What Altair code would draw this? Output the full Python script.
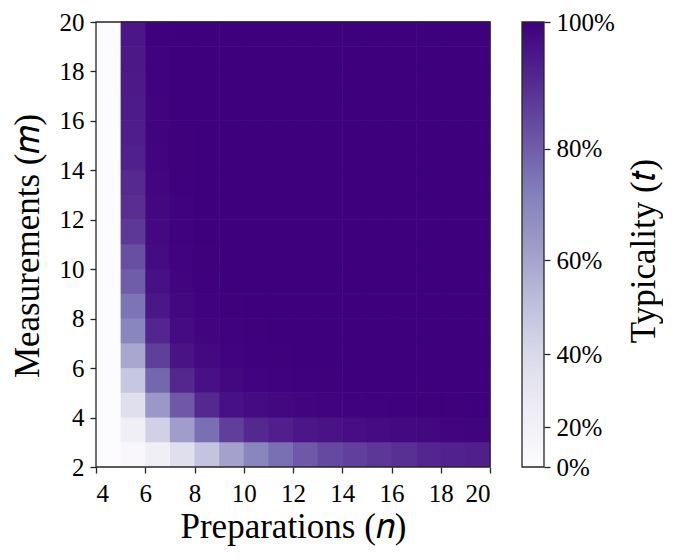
import altair as alt
import pandas as pd

# ---- data ----
n_values = [4, 5, 6, 7, 8, 9, 10, 11, 12, 13, 14, 15, 16, 17, 18, 19]   # cell left edges (preparations)
m_values = [2, 3, 4, 5, 6, 7, 8, 9, 10, 11, 12, 13, 14, 15, 16, 17, 18, 19]  # cell bottom edges (measurements)

row_m2  = [0.00, 0.10, 0.22, 0.36, 0.49, 0.61, 0.70, 0.76, 0.81, 0.845, 0.862, 0.881, 0.898, 0.917, 0.926, 0.932]
row_m3  = [0.00, 0.22, 0.44, 0.62, 0.76, 0.865, 0.913, 0.932, 0.950, 0.961, 0.970, 0.977, 0.981, 0.985, 0.989, 0.991]
row_m4  = [0.00, 0.36, 0.64, 0.81, 0.913, 0.966, 0.977, 0.985, 0.990, 0.993, 0.995, 0.996, 0.997, 0.998, 0.998, 0.999]
row_m5  = [0.00, 0.48, 0.78, 0.915, 0.966, 0.985, 0.993, 0.996, 0.997, 0.998, 0.999, 0.999, 1.0, 1.0, 1.0, 1.0]
row_m6  = [0.00, 0.59, 0.865, 0.959, 0.981, 0.993, 0.997, 0.998, 0.999, 1.0, 1.0, 1.0, 1.0, 1.0, 1.0, 1.0]
row_m7  = [0.00, 0.70, 0.919, 0.977, 0.990, 0.996, 0.998, 0.999, 1.0, 1.0, 1.0, 1.0, 1.0, 1.0, 1.0, 1.0]
row_m8  = [0.00, 0.75, 0.953, 0.985, 0.995, 0.998, 0.999, 1.0, 1.0, 1.0, 1.0, 1.0, 1.0, 1.0, 1.0, 1.0]
row_m9  = [0.00, 0.80, 0.966, 0.990, 0.997, 0.999, 1.0, 1.0, 1.0, 1.0, 1.0, 1.0, 1.0, 1.0, 1.0, 1.0]
row_m10 = [0.00, 0.83, 0.977, 0.993, 0.998, 0.999, 1.0, 1.0, 1.0, 1.0, 1.0, 1.0, 1.0, 1.0, 1.0, 1.0]
row_m11 = [0.00, 0.88, 0.981, 0.995, 0.999, 1.0, 1.0, 1.0, 1.0, 1.0, 1.0, 1.0, 1.0, 1.0, 1.0, 1.0]
row_m12 = [0.00, 0.90, 0.985, 0.996, 0.999, 1.0, 1.0, 1.0, 1.0, 1.0, 1.0, 1.0, 1.0, 1.0, 1.0, 1.0]
row_m13 = [0.00, 0.91, 0.988, 0.997, 1.0, 1.0, 1.0, 1.0, 1.0, 1.0, 1.0, 1.0, 1.0, 1.0, 1.0, 1.0]
row_m14 = [0.00, 0.93, 0.990, 0.998, 1.0, 1.0, 1.0, 1.0, 1.0, 1.0, 1.0, 1.0, 1.0, 1.0, 1.0, 1.0]
row_m15 = [0.00, 0.935, 0.992, 0.998, 1.0, 1.0, 1.0, 1.0, 1.0, 1.0, 1.0, 1.0, 1.0, 1.0, 1.0, 1.0]
row_m16 = [0.00, 0.94, 0.994, 0.999, 1.0, 1.0, 1.0, 1.0, 1.0, 1.0, 1.0, 1.0, 1.0, 1.0, 1.0, 1.0]
row_m17 = [0.00, 0.945, 0.995, 0.999, 1.0, 1.0, 1.0, 1.0, 1.0, 1.0, 1.0, 1.0, 1.0, 1.0, 1.0, 1.0]
row_m18 = [0.00, 0.948, 0.996, 0.999, 1.0, 1.0, 1.0, 1.0, 1.0, 1.0, 1.0, 1.0, 1.0, 1.0, 1.0, 1.0]
row_m19 = [0.00, 0.95, 0.997, 1.0, 1.0, 1.0, 1.0, 1.0, 1.0, 1.0, 1.0, 1.0, 1.0, 1.0, 1.0, 1.0]

rows = [row_m2, row_m3, row_m4, row_m5, row_m6, row_m7, row_m8, row_m9, row_m10,
        row_m11, row_m12, row_m13, row_m14, row_m15, row_m16, row_m17, row_m18, row_m19]

x_ticks = [4, 6, 8, 10, 12, 14, 16, 18, 20]
y_ticks = [2, 4, 6, 8, 10, 12, 14, 16, 18, 20]
cbar_ticks = [0.0, 0.2, 0.4, 0.6, 0.8, 1.0]

# ---- build table ----
records = []
for m, row in zip(m_values, rows):
    for n, t in zip(n_values, row):
        records.append({"n": n, "n_end": n + 1, "m": m, "m_end": m + 1, "t": t})
df = pd.DataFrame(records)

frame_df = pd.DataFrame({"n": [n_values[0]], "n_end": [n_values[-1] + 1],
                         "m": [m_values[0]], "m_end": [m_values[-1] + 1]})
cbar_df = pd.DataFrame({"lo": [0.0], "hi": [1.0]})

# ---- styling ----
FONT = "Liberation Serif"
INK = "#262626"
purples = ["#fcfbfd", "#efedf5", "#dadaeb", "#bcbddc", "#9e9ac8",
           "#807dba", "#6a51a3", "#54278f", "#3f007d"]
gamma = 1.5
color_domain = [(k / 8) ** (1 / gamma) for k in range(9)]
color_scale = alt.Scale(type="pow", exponent=gamma, domain=color_domain,
                        range=purples, interpolate="rgb", clamp=True)

W, H = 394, 445
CBW = 22
LABEL_SIZE = 25
TITLE_SIZE = 35

x_enc = alt.X("n:Q", scale=alt.Scale(domain=[4, 20], nice=False, zero=False),
              axis=alt.Axis(values=x_ticks, format="d", title="Preparations (𝑛)",
                            labelPadding=8, titleY=70, titleBaseline="alphabetic"))
y_enc = alt.Y("m:Q", scale=alt.Scale(domain=[2, 20], nice=False, zero=False),
              axis=alt.Axis(values=y_ticks, format="d", title="Measurements (𝑚)",
                            labelPadding=6, titleX=-58, titleY=H / 2 + 1, titleAngle=270,
                            titleBaseline="alphabetic", titleAlign="center"))

heat = alt.Chart(df).mark_rect(x2Offset=0.6, y2Offset=-0.6).encode(
    x=x_enc, x2="n_end:Q", y=y_enc, y2="m_end:Q",
    color=alt.Color("t:Q", scale=color_scale, legend=None),
)

frame = alt.Chart(frame_df).mark_rect(filled=False, stroke=INK, strokeWidth=1.3).encode(
    x=x_enc, x2="n_end:Q", y=y_enc, y2="m_end:Q",
)

main = alt.layer(heat, frame).properties(width=W, height=H)

gradient = alt.Gradient(
    gradient="linear",
    stops=[alt.GradientStop(offset=k / 8, color=c) for k, c in enumerate(purples)],
    x1=0, x2=0, y1=1, y2=0,
)

cbar = alt.Chart(cbar_df).mark_rect(fill=gradient, stroke=INK, strokeWidth=1.3).encode(
    x=alt.value(0), x2=alt.value(CBW),
    y=alt.Y("lo:Q", scale=alt.Scale(type="pow", exponent=gamma, domain=[0, 1], nice=False, zero=False),
            axis=alt.Axis(orient="right", values=cbar_ticks, format=".0%", title="Typicality (𝑡)",
                          labelPadding=6, titleX=110, titleY=H / 2 + 6, titleAngle=270,
                          titleBaseline="alphabetic", titleAlign="center")),
    y2="hi:Q",
).properties(width=CBW, height=H)

chart = alt.hconcat(main, cbar, spacing=30).properties(
    padding={"left": 2, "top": 2, "right": 2, "bottom": 2}
).configure_view(stroke=None).configure_axis(
    labelFont=FONT, labelFontSize=LABEL_SIZE, labelColor="black",
    titleFont=FONT, titleFontSize=TITLE_SIZE, titleFontWeight="normal", titleColor="black",
    tickColor=INK, tickWidth=1.3, tickSize=6, domain=False, grid=False,
)

chart.save("out.html", embed_options={"renderer": "svg", "actions": False})
